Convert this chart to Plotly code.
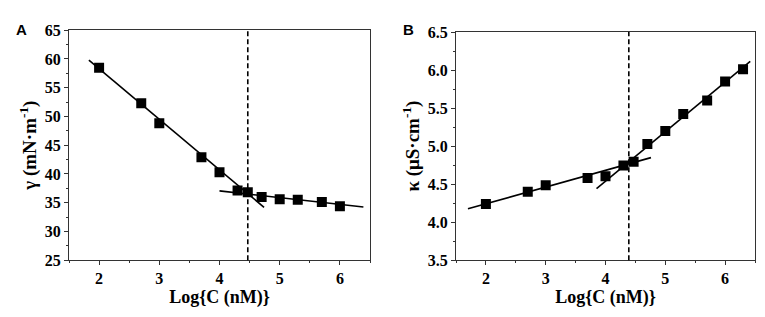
import plotly.graph_objects as go

# Panel A: surface tension
xA = [2.0, 2.7, 3.0, 3.7, 4.0, 4.3, 4.47, 4.7, 5.0, 5.3, 5.7, 6.0]
yA = [58.45, 52.3, 48.8, 42.9, 40.3, 37.1, 36.8, 36.0, 35.6, 35.5, 35.1, 34.4]
fitA1_x = [1.83, 4.74]
fitA1_y = [59.8, 34.2]
fitA2_x = [4.0, 6.39]
fitA2_y = [37.05, 34.25]
cmcA = 4.47

# Panel B: conductivity
xB = [2.0, 2.7, 3.0, 3.7, 4.0, 4.3, 4.47, 4.7, 5.0, 5.3, 5.7, 6.0, 6.3]
yB = [4.24, 4.40, 4.485, 4.58, 4.605, 4.746, 4.795, 5.027, 5.20, 5.424, 5.60, 5.85, 6.012]
fitB1_x = [1.70, 4.76]
fitB1_y = [4.175, 4.849]
fitB2_x = [3.85, 6.42]
fitB2_y = [4.44, 6.115]
cmcB = 4.39

W, H = 765, 317
font_serif = "Liberation Serif"

fig = go.Figure()

def add_panel(fig, xs, ys, fits, xa, ya):
    for fx, fy in fits:
        fig.add_trace(go.Scatter(x=fx, y=fy, mode="lines", xaxis=xa, yaxis=ya,
                                 line=dict(color="black", width=1.6), showlegend=False,
                                 hoverinfo="skip"))
    fig.add_trace(go.Scatter(x=xs, y=ys, mode="markers", xaxis=xa, yaxis=ya,
                             marker=dict(symbol="square", size=10, color="black"),
                             showlegend=False))

add_panel(fig, xA, yA, [(fitA1_x, fitA1_y), (fitA2_x, fitA2_y)], "x", "y")
add_panel(fig, xB, yB, [(fitB1_x, fitB1_y), (fitB2_x, fitB2_y)], "x2", "y2")

tickfont = dict(family=font_serif, size=16, color="black", weight="bold")
xtitlefont = dict(family=font_serif, size=18, color="black", weight="bold")
ytitlefont = dict(family=font_serif, size=19, color="black", weight="bold")

def xaxis(domain, anchor):
    return dict(domain=domain, anchor=anchor, range=[1.5, 6.5], dtick=1, tick0=0,
                showline=True, mirror=True, linecolor="#333", linewidth=1.2,
                ticks="outside", ticklen=4, tickwidth=1, tickcolor="#333",
                minor=dict(dtick=0.5, ticks="outside", ticklen=2, tickcolor="#333"),
                showgrid=False, zeroline=False,
                tickfont=tickfont,
                title=dict(text="Log{C (nM)}", font=xtitlefont, standoff=3))

def yaxis(domain, anchor, rng, dtick, fmt, title):
    return dict(domain=domain, anchor=anchor, range=rng, dtick=dtick, tickformat=fmt,
                showline=True, mirror=True, linecolor="#333", linewidth=1.2,
                ticks="outside", ticklen=4, tickwidth=1, tickcolor="#333",
                minor=dict(dtick=dtick / 2, ticks="outside", ticklen=2, tickcolor="#333"),
                showgrid=False, zeroline=False,
                tickfont=tickfont,
                title=dict(text=title, font=ytitlefont, standoff=3))

fig.update_layout(
    width=W, height=H,
    margin=dict(l=0, r=0, t=0, b=0),
    plot_bgcolor="white", paper_bgcolor="white",
    xaxis=xaxis([61 / W, 362 / W], "y"),
    yaxis=yaxis([(H - 258) / H, (H - 15) / H], "x", [25, 65], 5, "d",
                "γ (mN·m<sup>-1</sup>)"),
    xaxis2=xaxis([448 / W, 747 / W], "y2"),
    yaxis2=yaxis([(H - 258) / H, (H - 17) / H], "x2", [3.5, 6.5], 0.5, ".1f",
                 "κ (μS·cm<sup>-1</sup>)"),
    shapes=[
        dict(type="line", xref="x", yref="y domain", x0=cmcA, x1=cmcA, y0=0, y1=1,
             line=dict(color="black", width=1.6, dash="5px,3px")),
        dict(type="line", xref="x2", yref="y2 domain", x0=cmcB, x1=cmcB, y0=0, y1=1,
             line=dict(color="black", width=1.6, dash="5px,3px")),
    ],
    annotations=[
        dict(text="<b>A</b>", x=6 / W, y=1 - 14 / H, xref="paper", yref="paper",
             xanchor="left", yanchor="middle", showarrow=False,
             font=dict(family="Liberation Sans", size=15, color="black")),
        dict(text="<b>B</b>", x=393 / W, y=1 - 14 / H, xref="paper", yref="paper",
             xanchor="left", yanchor="middle", showarrow=False,
             font=dict(family="Liberation Sans", size=15, color="black")),
    ],
)

fig.write_html("out.html")
